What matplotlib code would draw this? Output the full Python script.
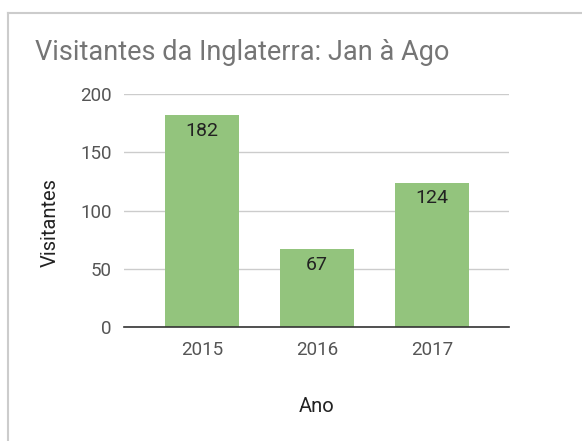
import matplotlib
matplotlib.use("Agg")
import matplotlib.pyplot as plt
from matplotlib.lines import Line2D

years = ["2015", "2016", "2017"]
visitors = [182, 67, 124]
yticks = [0, 50, 100, 150, 200]

plt.rcParams['font.family'] = ['Roboto', 'DejaVu Sans']

W, H = 582, 441
fig = plt.figure(figsize=(W / 100, H / 100), dpi=100)

# axes placement (pixels)
left, right, top, bottom = 124, 509, 94, 327
ax = fig.add_axes([left / W, 1 - bottom / H, (right - left) / W, (bottom - top) / H])

x = list(range(len(years)))
bars = ax.bar(x, visitors, width=0.645, color="#93c47d", zorder=2)
ax.set_xlim(-0.68, 2.67)
ax.set_ylim(0, 200)

ax.set_yticks(yticks)
ax.set_yticklabels([str(v) for v in yticks])
ax.set_xticks(x)
ax.set_xticklabels(years)
ax.tick_params(axis='both', length=0, labelsize=13.5, labelcolor="#555555")
ax.tick_params(axis='y', pad=9)
ax.tick_params(axis='x', pad=10)

ax.grid(axis='y', color="#cccccc", linewidth=1, zorder=0)
for s in ["top", "right", "left"]:
    ax.spines[s].set_visible(False)
ax.spines["bottom"].set_color("#333333")
ax.spines["bottom"].set_linewidth(1.2)
ax.spines["bottom"].set_zorder(3)

for xi, v in zip(x, visitors):
    ax.annotate(str(v), (xi, v), xytext=(0, -5), textcoords="offset points",
                ha="center", va="top", fontsize=14, color="#222222", zorder=4)

fig.text(35 / W, 1 - 52 / H, "Visitantes da Inglaterra: Jan à Ago",
         fontsize=19.5, color="#757575", ha="left", va="center")
fig.text(317 / W, 1 - 407 / H, "Ano", fontsize=14.5, color="#222222",
         ha="center", va="center")
fig.text(50 / W, 1 - 223 / H, "Visitantes", fontsize=14.5, color="#222222",
         ha="center", va="center", rotation=90)

# card border
fig.add_artist(Line2D([8 / W, 8 / W], [0, 1 - 13 / H], color="#cccccc", linewidth=1.5,
                      transform=fig.transFigure))
fig.add_artist(Line2D([8 / W, 1], [1 - 13 / H, 1 - 13 / H], color="#cccccc", linewidth=1.5,
                      transform=fig.transFigure))

fig.savefig("out.png", dpi=100)
